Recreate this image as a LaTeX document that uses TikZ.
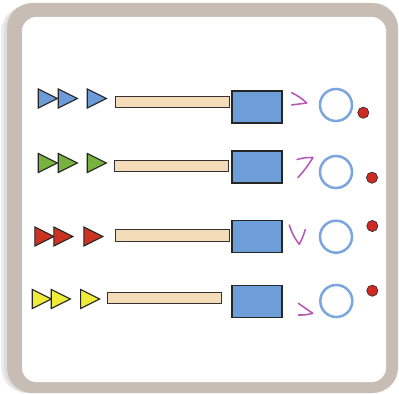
\documentclass[tikz,border=0pt]{standalone}
\usetikzlibrary{shapes.geometric}
\definecolor{framegray}{HTML}{C8BDB4}
\definecolor{tblue}{HTML}{6C9CD8}
\definecolor{tgreen}{HTML}{78B23E}
\definecolor{tred}{HTML}{CC3322}
\definecolor{tyellow}{HTML}{EEEC36}
\definecolor{barfill}{HTML}{F4DCB8}
\definecolor{boxblue}{HTML}{6E9ED8}
\definecolor{ringblue}{HTML}{7BA7DE}
\definecolor{pink}{HTML}{B658B5}
\definecolor{dotred}{HTML}{CC2A22}
\begin{document}
\begin{tikzpicture}[x=0.025cm,y=-0.025cm]
\useasboundingbox (0,0) rectangle (399,393);
% frame
\fill[black!30,opacity=.25,rounded corners=18pt] (1,6) rectangle (396,393);
\fill[black!30,opacity=.25,rounded corners=18pt] (4,5) rectangle (397,393);
\fill[framegray,rounded corners=18pt] (7,3) rectangle (398,393);
\fill[white,rounded corners=10pt] (22,17) rectangle (386,382);
\begin{scope}[every node/.style={isosceles triangle,isosceles triangle stretches,
              draw=black!85,thick,inner sep=0pt,anchor=west,
              minimum width=0.475cm,minimum height=0.475cm}]
    \node[fill=tblue] (T11) at (37.7,98.5) {};
    \node[fill=tblue] (T12) at (57.7,98.5) {};
    \node[fill=tblue] (T13) at (86.7,98.5) {};
    \node[fill=tgreen] (T21) at (37.7,163) {};
    \node[fill=tgreen] (T22) at (57.7,163) {};
    \node[fill=tgreen] (T23) at (86.7,163) {};
    \node[fill=tred] (T31) at (34.3,236.5) {};
    \node[fill=tred] (T32) at (53.3,236.5) {};
    \node[fill=tred] (T33) at (83.3,236.5) {};
    \node[fill=tyellow] (T41) at (31.7,299) {};
    \node[fill=tyellow] (T42) at (50.7,299) {};
    \node[fill=tyellow] (T43) at (80,299) {};
\end{scope}
\begin{scope}[every node/.style={rectangle,draw=black!80,thick,fill=barfill,
              anchor=west,inner sep=0pt,minimum width=2.85cm,minimum height=0.29cm}]
    \node (B1) at (115,102) {};
    \node (B2) at (114,166) {};
    \node (B3) at (115,235.5) {};
    \node (B4) at (106.7,298) {};
\end{scope}
\begin{scope}[every node/.style={rectangle,draw=black!85,thick,fill=boxblue,
              inner sep=0pt,minimum width=1.25cm,minimum height=0.8cm}]
    \node (S1) at (257,107) {};
    \node (S2) at (257,167) {};
    \node (S3) at (257,236.3) {};
    \node (S4) at (257,301.3) {};
\end{scope}
\begin{scope}[every node/.style={circle,draw=ringblue,line width=1.8pt,
              inner sep=0pt,minimum size=0.8cm}]
    \node (C1) at (336,105) {};
    \node (C2) at (336,172) {};
    \node (C3) at (336,236.7) {};
    \node (C4) at (336.3,301) {};
\end{scope}
\begin{scope}[every node/.style={circle,draw=black!85,fill=dotred,thin,
              inner sep=0pt,minimum size=0.28cm}]
    \node (D1) at (363.3,112.7) {};
    \node (D2) at (372,177.7) {};
    \node (D3) at (372.3,226) {};
    \node (D4) at (372.3,290.7) {};
\end{scope}
\begin{scope}[pink,line width=1.1pt,line cap=round,line join=round]
    \draw (291.7,92.7) to[bend left=8] (306.7,103) -- (291.7,105);
    \draw (297,159.5) to[bend left=8] (313,157.5) to[bend left=5] (298,177.5);
    \draw (289.3,225) to[bend right=10] (299.3,244.3) to[bend right=5] (305.3,229.5);
    \draw (298.3,303.3) -- (312.7,313.3) to[bend left=8] (298.3,315);
\end{scope}
\end{tikzpicture}
\end{document}
